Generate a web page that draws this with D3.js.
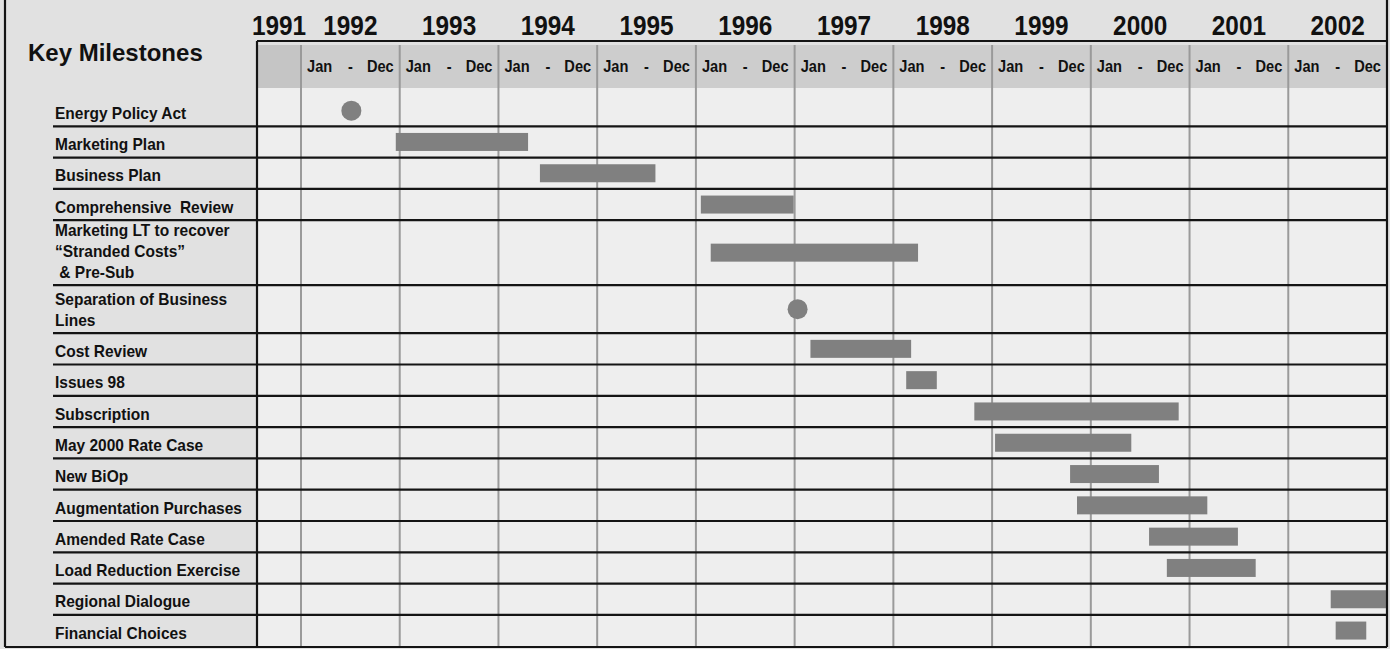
<!DOCTYPE html>
<html>
<head>
<meta charset="utf-8">
<script src="https://cdn.jsdelivr.net/npm/d3@7/dist/d3.min.js"></script>
<style>
  html, body { margin: 0; padding: 0; background: #e1e1e1; }
  svg { display: block; }
  text { font-family: "Liberation Sans", Arial, sans-serif; font-weight: bold; fill: #111; white-space: pre; }
</style>
</head>
<body>
<svg id="chart" width="1390" height="649"></svg>
<script>
// Milestones, one per row (line breaks split a label over several lines)
const tasks = [
  "Energy Policy Act",
  "Marketing Plan",
  "Business Plan",
  "Comprehensive  Review",
  "Marketing LT to recover\n\u201CStranded Costs\u201D\n & Pre-Sub",
  "Separation of Business\nLines",
  "Cost Review",
  "Issues 98",
  "Subscription",
  "May 2000 Rate Case",
  "New BiOp",
  "Augmentation Purchases",
  "Amended Rate Case",
  "Load Reduction Exercise",
  "Regional Dialogue",
  "Financial Choices"
];
// Start and end in decimal years; a task whose end equals its start is a one-off event
const starts = [1992.51, 1992.96, 1994.42, 1996.05, 1996.15, 1997.03, 1997.16, 1998.13,
                1998.82, 1999.03, 1999.79, 1999.86, 2000.59, 2000.77, 2002.43, 2002.48];
const ends   = [1992.51, 1994.30, 1995.59, 1996.99, 1998.25, 1997.03, 1998.18, 1998.44,
                2000.89, 2000.41, 2000.69, 2001.18, 2001.49, 2001.67, 2003.00, 2002.79];
// Header
const years = [1991, 1992, 1993, 1994, 1995, 1996, 1997, 1998, 1999, 2000, 2001, 2002];
const monthSpan = ["Jan", "-", "Dec"];
const title = "Key Milestones";

const svg = d3.select("#chart");

// Layout
const frameLeft = 5, frameRight = 1387, frameBottom = 647;
const gridLeft = 257;
const headerTop = 41, bandTop = 45, bandBottom = 88;
const firstPad = 7, rowBase = 31.3, rowExtra = 16.8;
const labelX = 55, lineStep = 21;

const x = d3.scaleLinear().domain([1992, 2003]).range([301, frameRight]);

// Condensed text: horizontal squeeze applied around the anchor point
function narrowText(g, px, py, str, size, anchor, squeeze) {
  return g.append("text")
    .attr("transform", `translate(${px},${py}) scale(${squeeze},1)`)
    .attr("font-size", size)
    .attr("text-anchor", anchor)
    .text(str);
}

// Row geometry from label line counts
const lines = tasks.map(t => t.split("\n"));
const rows = [];
let yCur = bandBottom;
lines.forEach((ls, i) => {
  const h = rowBase + (ls.length - 1) * rowExtra + (i === 0 ? firstPad : 0);
  rows.push({ top: yCur, bottom: yCur + h, inner: yCur + (i === 0 ? firstPad : 0) });
  yCur += h;
});

// Cell area and header band
svg.append("rect").attr("x", gridLeft).attr("y", bandBottom)
  .attr("width", frameRight - gridLeft).attr("height", frameBottom - bandBottom)
  .attr("fill", "#eeeeee");
svg.append("rect").attr("x", gridLeft).attr("y", bandTop)
  .attr("width", frameRight - gridLeft).attr("height", bandBottom - bandTop)
  .attr("fill", "#cdcdcd");
svg.append("rect").attr("x", gridLeft).attr("y", bandTop)
  .attr("width", x(1992) - gridLeft).attr("height", bandBottom - bandTop)
  .attr("fill", "#c5c5c5");

// Year columns
const cols = years.slice(1);
svg.append("g").selectAll("line").data(cols).join("line")
  .attr("x1", d => x(d)).attr("x2", d => x(d))
  .attr("y1", bandTop).attr("y2", frameBottom)
  .attr("stroke", "#9a9a9a").attr("stroke-width", 2);

// Year labels
const yearG = svg.append("g");
years.forEach(d => {
  const cx = d === years[0] ? (gridLeft + x(years[1])) / 2 : x(d + 0.5);
  narrowText(yearG, cx, 35, d, 28, "middle", 0.87);
});

// Month span in each column: first month left, dash centred, last month right
const monthG = svg.append("g");
cols.forEach(c => {
  const l = x(c), r = x(c + 1);
  narrowText(monthG, l + 6, 72, monthSpan[0], 17, "start", 0.86);
  narrowText(monthG, (l + r) / 2, 72, monthSpan[1], 17, "middle", 0.86);
  narrowText(monthG, r - 6, 72, monthSpan[2], 17, "end", 0.86);
});

// Title
svg.append("text").attr("x", 28).attr("y", 61).attr("font-size", 24).text(title);

// Row separators
svg.append("g").selectAll("line").data(rows.slice(0, -1)).join("line")
  .attr("x1", 53).attr("x2", frameRight)
  .attr("y1", d => d.bottom).attr("y2", d => d.bottom)
  .attr("stroke", "#141414").attr("stroke-width", 2.2);

// Row labels
const labelG = svg.append("g");
lines.forEach((ls, i) => {
  const base = rows[i].bottom - 7.5 - (ls.length - 1) * lineStep;
  ls.forEach((s, k) => {
    narrowText(labelG, labelX, base + k * lineStep, s, 16.5, "start", 0.94);
  });
});

// Bars and event markers
const barH = 18;
const marks = svg.append("g");
tasks.forEach((t, i) => {
  const cy = (rows[i].inner + rows[i].bottom) / 2;
  if (ends[i] === starts[i]) {
    marks.append("circle").attr("cx", x(starts[i])).attr("cy", cy).attr("r", 10)
      .attr("fill", "#808080");
  } else {
    const x1 = x(starts[i]), x2 = Math.min(x(ends[i]), frameRight);
    marks.append("rect").attr("x", x1).attr("y", cy - barH / 2)
      .attr("width", x2 - x1).attr("height", barH).attr("fill", "#808080");
  }
});

// Frame lines
const frame = svg.append("g").attr("stroke", "#141414").attr("stroke-width", 2.2).attr("fill", "none");
frame.append("line").attr("x1", gridLeft).attr("x2", frameRight).attr("y1", headerTop).attr("y2", headerTop);
frame.append("line").attr("x1", gridLeft).attr("x2", gridLeft).attr("y1", headerTop).attr("y2", frameBottom);
frame.append("line").attr("x1", frameLeft).attr("x2", frameLeft).attr("y1", 0).attr("y2", frameBottom);
frame.append("line").attr("x1", frameRight).attr("x2", frameRight).attr("y1", 0).attr("y2", frameBottom);
frame.append("line").attr("x1", frameLeft).attr("x2", frameRight).attr("y1", frameBottom).attr("y2", frameBottom);
</script>
</body>
</html>
